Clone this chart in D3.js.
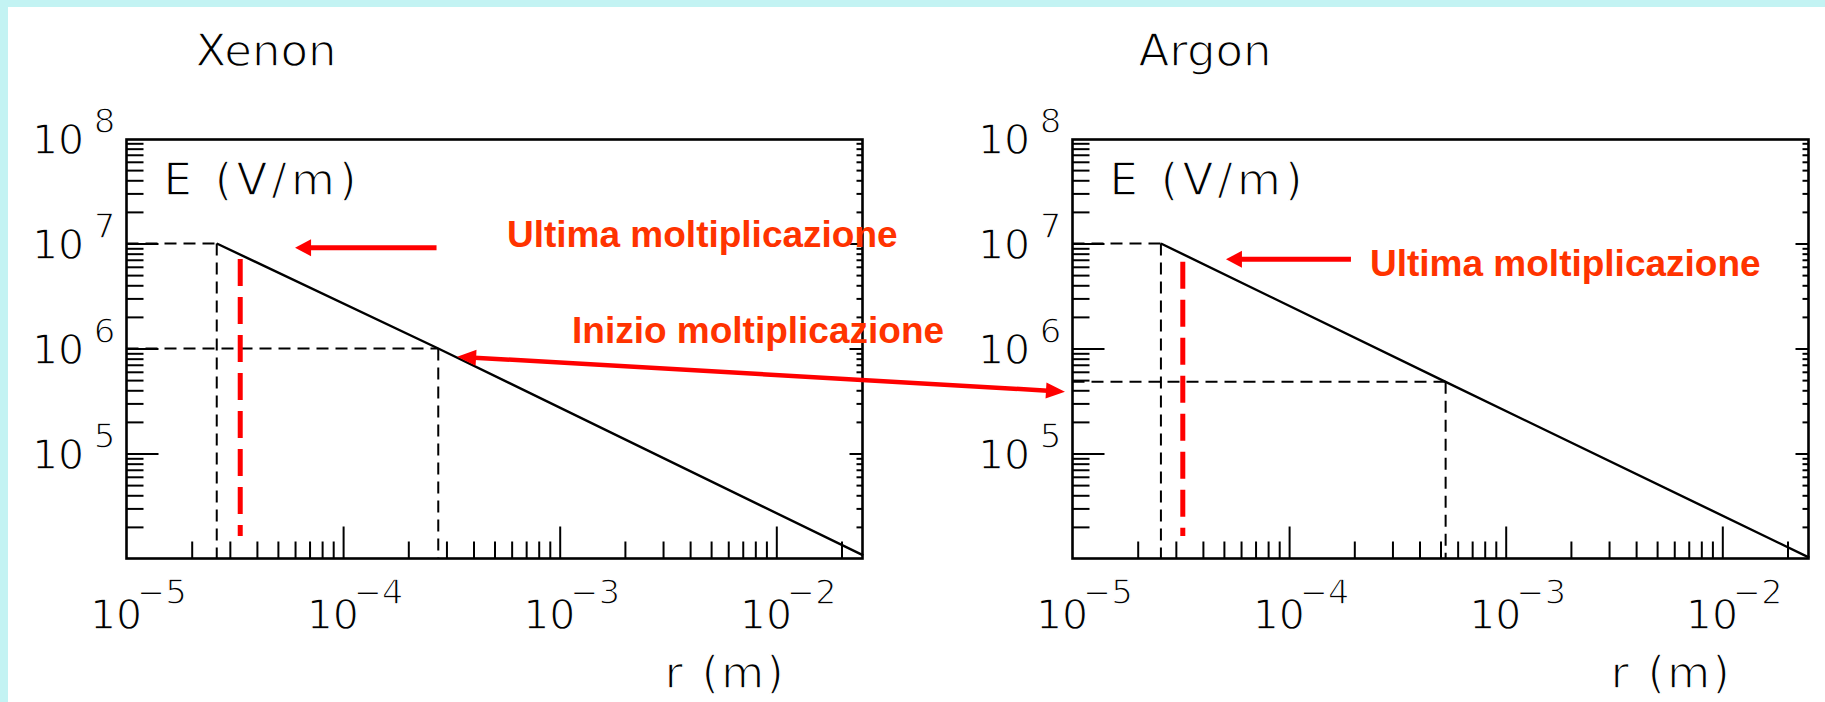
<!DOCTYPE html>
<html>
<head>
<meta charset="utf-8">
<script src="https://cdn.jsdelivr.net/npm/d3@7"></script>
<style>
  html, body { margin: 0; padding: 0; background: #fff; }
  svg { display: block; }
  .paw { font-family: "DejaVu Sans", sans-serif; fill: #000; stroke: #fff; stroke-width: 1.3px; }
  .note { font-family: "Liberation Sans", Arial, sans-serif; font-weight: bold; font-size: 37px; fill: #ff3300; }
</style>
</head>
<body>
<svg id="chart" width="1825" height="702"></svg>
<script>
// Shared axis extents
const rDomain = [1e-5, 2.5e-2];          // r (m)
const eDomain = [1e4, 1e8];              // E (V/m)
const rLabelExps = [-5, -4, -3, -2];
const eLabelExps = [8, 7, 6, 5];
const rMajor = [1e-4, 1e-3, 1e-2];
const eMajor = [1e5, 1e6, 1e7];
const panelNames = ["Xenon", "Argon"];

// E(r) profile for each gas: [r, E]
const xenonField = [[2.61e-5, 1.0e7], [2.75e-4, 1.0e6], [2.52e-2, 1.07e4]];
const argonField = [[2.56e-5, 1.0e7], [5.28e-4, 4.81e5], [2.52e-2, 1.02e4]];

// Last multiplication and onset of multiplication: [r, E]
const xenonLast = [2.61e-5, 1.0e7];
const xenonOnset = [2.75e-4, 1.0e6];
const argonLast = [2.56e-5, 1.0e7];
const argonOnset = [5.28e-4, 4.81e5];

// Red dashed marker: [r, E top, E bottom]
const xenonMarker = [3.35e-5, 7.1e6, 1.64e4];
const argonMarker = [3.23e-5, 6.7e6, 1.64e4];

// Annotation arrows: [r, E] endpoints (tail -> tip)
const xenonLastArrow = [[2.70e-4, 9.12e6], [6.0e-5, 9.12e6]];
const argonLastArrow = [[1.93e-4, 7.07e6], [5.11e-5, 7.07e6]];
const onsetArrow = [[3.36e-4, 8.36e5], [9.23e-6, 3.88e5]]; // Xenon panel -> Argon panel
const noteLast = "Ultima moltiplicazione";
const noteOnset = "Inizio moltiplicazione";

// ---------------------------------------------------------------
const W = 1825, H = 702;
const frameW = 736, frameTop = 138.5, frameBottom = 558.5;
const svg = d3.select("#chart");

svg.append("rect").attr("width", W).attr("height", H).attr("fill", "#fff");
svg.append("rect").attr("width", W).attr("height", 7).attr("fill", "#c3f3f3");
svg.append("rect").attr("width", 8).attr("height", H).attr("fill", "#c3f3f3");

const rMinor = d3.range(-5, -1)
  .flatMap(n => d3.range(2, 10).map(k => k * Math.pow(10, n)))
  .filter(v => v < rDomain[1]);
const eMinor = d3.range(4, 8)
  .flatMap(n => d3.range(2, 10).map(k => k * Math.pow(10, n)));

const panels = [
  { name: panelNames[0], left: 126.5, titleDx: 69, field: xenonField, last: xenonLast, onset: xenonOnset, marker: xenonMarker },
  { name: panelNames[1], left: 1072.5, titleDx: 66, field: argonField, last: argonLast, onset: argonOnset, marker: argonMarker }
];

function tickAxis(g, gen, values, size) {
  g.call(gen.tickValues(values).tickSize(size).tickFormat(""));
  g.select(".domain").remove();
  g.selectAll(".tick line").attr("stroke", "#000").attr("stroke-width", 2);
}

panels.forEach(p => {
  const right = p.left + frameW;
  const x = d3.scaleLog().domain(rDomain).range([p.left, right]);
  const y = d3.scaleLog().domain(eDomain).range([frameBottom, frameTop]);
  p.x = x; p.y = y;
  const g = svg.append("g");

  // title
  g.append("text").attr("class", "paw").attr("x", p.left + p.titleDx).attr("y", 66)
    .attr("font-size", 45).text(p.name);

  // ticks: bottom, left (inward), right (short, inward)
  tickAxis(g.append("g").attr("transform", `translate(0,${frameBottom})`), d3.axisBottom(x), rMajor, -32);
  tickAxis(g.append("g").attr("transform", `translate(0,${frameBottom})`), d3.axisBottom(x), rMinor, -17);
  tickAxis(g.append("g").attr("transform", `translate(${p.left},0)`), d3.axisLeft(y), eMajor, -32);
  tickAxis(g.append("g").attr("transform", `translate(${p.left},0)`), d3.axisLeft(y), eMinor, -17);
  tickAxis(g.append("g").attr("transform", `translate(${right},0)`), d3.axisRight(y), eMajor, -13);
  tickAxis(g.append("g").attr("transform", `translate(${right},0)`), d3.axisRight(y), eMinor, -6);

  // frame
  g.append("rect").attr("x", p.left).attr("y", frameTop + 1).attr("width", frameW).attr("height", frameBottom - frameTop - 1)
    .attr("fill", "none").attr("stroke", "#000").attr("stroke-width", 2.6);

  // y tick labels 10^n
  eLabelExps.forEach(n => {
    const v = Math.pow(10, n);
    g.append("text").attr("class", "paw").attr("font-size", 41).attr("text-anchor", "end")
      .attr("x", p.left - 42.3).attr("y", y(v) + 15.5).text("10");
    g.append("text").attr("class", "paw").attr("font-size", 34).attr("text-anchor", "end")
      .attr("x", p.left - 11).attr("y", y(v) - 6).text(String(n));
  });

  // x tick labels 10^-n
  rLabelExps.forEach(n => {
    const v = Math.pow(10, n);
    g.append("text").attr("class", "paw").attr("font-size", 41).attr("text-anchor", "end")
      .attr("x", x(v) + 15.7).attr("y", 629).text("10");
    g.append("text").attr("class", "paw").attr("font-size", 34).attr("text-anchor", "end")
      .attr("x", x(v) + 60.4).attr("y", 604).text((n < 0 ? "\u2212" : "") + Math.abs(n));
  });

  // axis titles
  g.append("text").attr("class", "paw").attr("font-size", 45)
    .attr("x", p.left + 37).attr("y", 195)
    .attr("textLength", 193).attr("lengthAdjust", "spacing").text("E (V/m)");
  g.append("text").attr("class", "paw").attr("font-size", 44)
    .attr("x", right - 197.8).attr("y", 688.3)
    .attr("textLength", 119).attr("lengthAdjust", "spacing").text("r (m)");

  // guide lines to the thresholds
  [p.last, p.onset].forEach(d => {
    g.append("line").attr("x1", p.left).attr("x2", x(d[0])).attr("y1", y(d[1])).attr("y2", y(d[1]))
      .attr("stroke", "#000").attr("stroke-width", 2).attr("stroke-dasharray", "12,7");
    g.append("line").attr("x1", x(d[0])).attr("x2", x(d[0])).attr("y1", y(d[1])).attr("y2", frameBottom)
      .attr("stroke", "#000").attr("stroke-width", 2).attr("stroke-dasharray", "12,7");
  });

  // field curve
  g.append("path").datum(p.field)
    .attr("d", d3.line().x(d => x(d[0])).y(d => y(d[1])))
    .attr("fill", "none").attr("stroke", "#000").attr("stroke-width", 2.4);

  // red dashed marker
  g.append("line").attr("x1", x(p.marker[0])).attr("x2", x(p.marker[0]))
    .attr("y1", y(p.marker[1])).attr("y2", y(p.marker[2]))
    .attr("stroke", "#ff0000").attr("stroke-width", 5).attr("stroke-dasharray", "27,11");
});

// arrows
function arrow(p0, p1, width, headLen, headW, both) {
  const dx = p1[0] - p0[0], dy = p1[1] - p0[1];
  const len = Math.hypot(dx, dy), ux = dx / len, uy = dy / len, nx = -uy, ny = ux;
  const head = (tip, sx, sy) => {
    const bx = tip[0] - sx * headLen, by = tip[1] - sy * headLen;
    svg.append("polygon").attr("fill", "#ff0000")
      .attr("points", [[tip[0], tip[1]], [bx + nx * headW / 2, by + ny * headW / 2], [bx - nx * headW / 2, by - ny * headW / 2]].join(" "));
  };
  const s0 = both ? [p0[0] + ux * headLen * 0.9, p0[1] + uy * headLen * 0.9] : p0;
  const s1 = [p1[0] - ux * headLen * 0.9, p1[1] - uy * headLen * 0.9];
  svg.append("line").attr("x1", s0[0]).attr("y1", s0[1]).attr("x2", s1[0]).attr("y2", s1[1])
    .attr("stroke", "#ff0000").attr("stroke-width", width);
  head(p1, ux, uy);
  if (both) head(p0, -ux, -uy);
}
const px = (panel, d) => [panel.x(d[0]), panel.y(d[1])];
arrow(px(panels[0], xenonLastArrow[0]), px(panels[0], xenonLastArrow[1]), 5, 16, 17, false);
arrow(px(panels[1], argonLastArrow[0]), px(panels[1], argonLastArrow[1]), 5, 16, 17, false);
arrow(px(panels[0], onsetArrow[0]), px(panels[1], onsetArrow[1]), 4.5, 19, 16, true);

// notes
svg.append("text").attr("class", "note").attr("x", 507).attr("y", 247).text(noteLast);
svg.append("text").attr("class", "note").attr("x", 572).attr("y", 343).text(noteOnset);
svg.append("text").attr("class", "note").attr("x", 1370).attr("y", 276).text(noteLast);
</script>
</body>
</html>
